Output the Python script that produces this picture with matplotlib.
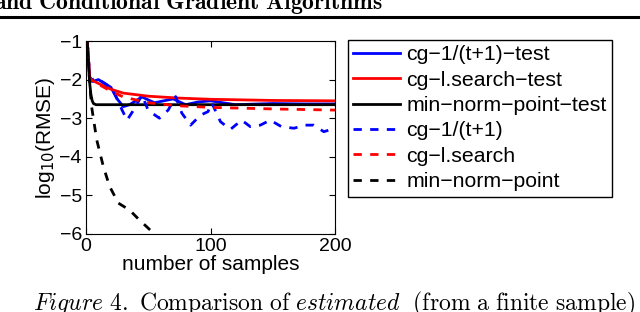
import matplotlib.pyplot as plt
import numpy as np

plt.rcParams['font.family'] = ['Liberation Sans', 'DejaVu Sans']

# cg-1/(t+1)-test
blue_t_x = [1, 3, 5, 10, 15, 20, 25, 30, 35, 45, 55, 70, 80, 90, 100, 120, 150, 175, 200]
blue_t_y = [-1.0, -1.95, -2.05, -2.0, -2.1, -2.2, -2.5, -2.7, -2.65, -2.45, -2.6, -2.5, -2.65, -2.58, -2.55, -2.65, -2.62, -2.63, -2.63]

# cg-l.search-test
red_t_x = [1, 3, 5, 10, 20, 30, 50, 75, 100, 150, 200]
red_t_y = [-1.0, -1.95, -2.02, -2.1, -2.25, -2.35, -2.43, -2.48, -2.51, -2.54, -2.55]

# min-norm-point-test
black_t_x = [1, 2, 3, 4, 5, 6, 8, 200]
black_t_y = [-1.0, -1.6, -2.1, -2.4, -2.55, -2.62, -2.65, -2.65]

# cg-1/(t+1)
blue_x = [1, 3, 5, 9, 17, 23, 29, 33, 38, 45, 50, 59, 66, 72, 77, 84, 92, 98, 101, 108, 116, 125, 132, 140, 148, 157, 167, 176, 183, 191, 200]
blue_y = [-1.0, -1.95, -2.0, -1.97, -2.14, -2.36, -2.79, -3.05, -2.8, -2.4, -2.8, -3.0, -2.79, -2.44, -2.87, -3.18, -2.92, -2.83, -2.6, -3.09, -3.29, -3.05, -3.22, -3.18, -3.05, -3.22, -3.26, -3.18, -3.18, -3.35, -3.26]

# cg-l.search
red_x = [1, 3, 5, 10, 20, 30, 50, 75, 100, 150, 200]
red_y = [-1.0, -1.95, -2.02, -2.12, -2.3, -2.45, -2.6, -2.68, -2.72, -2.76, -2.79]

# min-norm-point
black_x = [1, 3, 4.5, 8.6, 14, 19, 26, 35, 43, 53, 60]
black_y = [-1.0, -2.1, -2.7, -3.56, -4.26, -4.77, -5.2, -5.38, -5.64, -5.94, -6.2]

labels = ['cg\u22121/(t+1)\u2212test', 'cg\u2212l.search\u2212test', 'min\u2212norm\u2212point\u2212test',
          'cg\u22121/(t+1)', 'cg\u2212l.search', 'min\u2212norm\u2212point']

fig = plt.figure(figsize=(6.4, 3.12), dpi=100)

# page header and caption around the figure (cropped by the page edges, as in the scan)
fig.text(-6 / 640, 1 - 9 / 312, r'$\mathbf{and\ Conditional\ Gradient\ Algorithms}$', math_fontfamily='cm',
         fontsize=17, va='baseline', ha='left')
fig.add_artist(plt.Line2D([0, 1], [1 - 16.5 / 312, 1 - 16.5 / 312], color='black', lw=2.2))
fig.text(33 / 640, 1 - 310 / 312,
         r'$\it{Figure\ 4.}\ \mathrm{Comparison\ of}\ \it{estimated}\ \ \mathrm{(from\ a\ finite\ sample)}$',
         math_fontfamily='cm', fontsize=17, va='baseline', ha='left')

ax = fig.add_axes([86 / 640, 78 / 312, 249 / 640, 193 / 312])
lw = 2
ax.plot(blue_t_x, blue_t_y, 'b-', lw=lw, label=labels[0])
ax.plot(red_t_x, red_t_y, 'r-', lw=lw, label=labels[1])
ax.plot(black_t_x, black_t_y, 'k-', lw=lw, label=labels[2])
ax.plot(blue_x, blue_y, 'b--', lw=lw, dashes=(3, 3), label=labels[3])
ax.plot(red_x, red_y, 'r--', lw=lw, dashes=(3, 3), label=labels[4])
ax.plot(black_x, black_y, 'k--', lw=lw, dashes=(3, 3), label=labels[5])

ax.set_xlim(0, 200)
ax.set_ylim(-6, -1)
ax.set_xticks([0, 100, 200])
ax.set_yticks([-6, -5, -4, -3, -2, -1])
ax.tick_params(direction='in', top=True, right=True, labelsize=14, length=4, pad=3)
ax.set_xlabel('number of samples', fontsize=15, labelpad=0)
ax.set_ylabel(r'log$_{10}$(RMSE)', fontsize=15, labelpad=2)

leg = fig.legend(loc='upper left', bbox_to_anchor=(348 / 640, 1 - 40 / 312), fontsize=15.3,
                 frameon=True, fancybox=False, edgecolor='black', framealpha=1,
                 handlelength=2.2, handletextpad=0.3, labelspacing=0.3, borderpad=0.25,
                 borderaxespad=0)
leg.get_frame().set_linewidth(1)

fig.savefig('out.png', dpi=100)
